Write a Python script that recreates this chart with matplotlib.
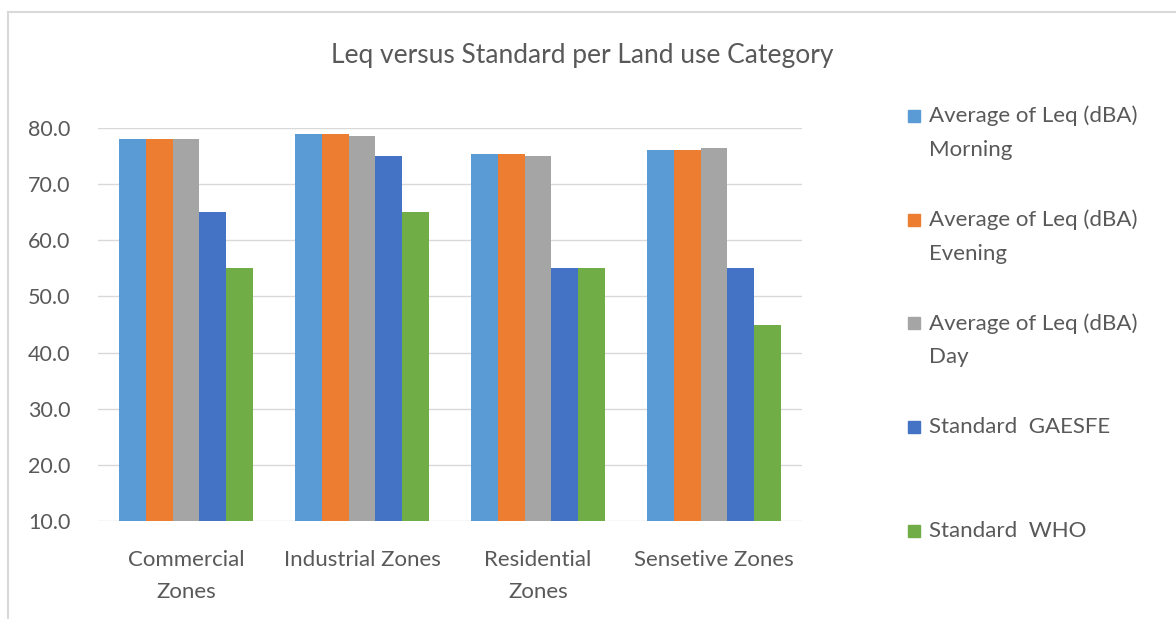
import matplotlib.pyplot as plt
import numpy as np
from matplotlib.patches import Rectangle
from matplotlib.lines import Line2D

plt.rcParams['font.family'] = ['Lato', 'DejaVu Sans']

categories = ["Commercial\nZones", "Industrial Zones", "Residential\nZones", "Sensetive Zones"]
series_names = ["Average of Leq (dBA)\nMorning", "Average of Leq (dBA)\nEvening",
                "Average of Leq (dBA)\nDay", "Standard  GAESFE", "Standard  WHO"]
morning = [78.0, 79.0, 75.3, 76.0]
evening = [78.0, 79.0, 75.3, 76.0]
day = [78.0, 78.6, 75.1, 76.5]
gaesfe = [65.0, 75.0, 55.0, 55.0]
who = [55.0, 65.0, 55.0, 45.0]
yticks = [10, 20, 30, 40, 50, 60, 70, 80]

colors = ["#5B9BD5", "#ED7D31", "#A5A5A5", "#4472C4", "#70AD47"]
text_color = "#595959"
W, H = 1176, 619

fig = plt.figure(figsize=(W / 100, H / 100), dpi=100)
ax = fig.add_axes([98 / W, 98 / H, 704 / W, 393 / H])

x = np.arange(len(categories))
w = 0.152
all_series = [morning, evening, day, gaesfe, who]
for i, vals in enumerate(all_series):
    ax.bar(x + (i - 2) * w, np.array(vals) - 10, bottom=10, width=w,
           color=colors[i], zorder=3)

ax.set_xlim(-0.5, len(categories) - 0.5)
ax.set_ylim(10, 80)
ax.set_yticks(yticks)
ax.set_yticklabels(["%.1f" % v for v in yticks])
ax.set_xticks(x)
ax.set_xticklabels(categories, linespacing=1.75, fontsize=16)
ax.tick_params(length=0, colors=text_color)
ax.tick_params(axis='y', pad=20, labelsize=15.5)
ax.tick_params(axis='x', pad=21)
ax.yaxis.grid(True, color="#D9D9D9", linewidth=1, zorder=0)
for s in ax.spines.values():
    s.set_visible(False)

fig.text(582 / W, 1 - 55 / H, "Leq versus Standard per Land use Category",
         ha='center', va='center', fontsize=19, color=text_color)

# legend drawn by hand to keep squares on the first text line
for i, name in enumerate(series_names):
    yc = 116 + i * 103.7
    fig.add_artist(Rectangle((908 / W, 1 - (yc + 6) / H), 12 / W, 12 / H,
                             transform=fig.transFigure, color=colors[i]))
    for j, line in enumerate(name.split("\n")):
        fig.text(929 / W, 1 - (yc + j * 34) / H, line, ha='left', va='center',
                 fontsize=16, color=text_color)

# outer chart border (top and left edges visible)
fig.add_artist(Line2D([8 / W, 1], [1 - 12 / H, 1 - 12 / H], color="#D9D9D9", lw=1.5))
fig.add_artist(Line2D([8 / W, 8 / W], [0, 1 - 12 / H], color="#D9D9D9", lw=1.5))

fig.savefig("out.png", dpi=100)
